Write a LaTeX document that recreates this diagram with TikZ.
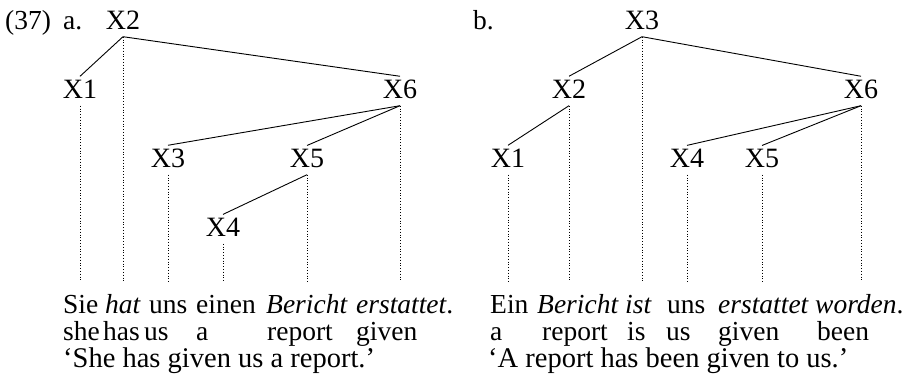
\documentclass[tikz,border=0pt]{standalone}
\usepackage{fontspec}
\setmainfont{Liberation Serif}
\usetikzlibrary{positioning}

\begin{document}
\begin{tikzpicture}[x=1pt, y=-1pt,
    cat/.style={inner sep=3pt, text depth=4.5pt, anchor=base, font=\fontsize{28}{33}\selectfont},
    word/.style={inner sep=0pt, text height=31pt, anchor=base west, font=\fontsize{27.5}{33}\selectfont},
    label/.style={inner sep=0pt, anchor=base west, font=\fontsize{27.5}{33}\selectfont},
    free/.style={label, font=\fontsize{28.5}{33}\selectfont},
    branch/.style={line width=0.9pt},
    link/.style={line width=0.8pt, dash pattern=on 0.8pt off 2pt}]
  \useasboundingbox (0,0) rectangle (907,381);

  % Example number and labels
  \node[label] (num) at (5,29) {(37)};
  \node[label] (la) at (63,29) {a.};
  \node[label] (lb) at (473,29) {b.};

  % Tree a
  \node[cat] (a2) at (123,29) {X2};
  \node[cat] (a1) at (80,98) {X1};
  \node[cat] (a6) at (400,98) {X6};
  \node[cat] (a3) at (168,167) {X3};
  \node[cat] (a5) at (307,167) {X5};
  \node[cat] (a4) at (223,236) {X4};

  \draw[branch] (a2.south) -- (a1.north);
  \draw[branch] (a2.south) -- (a6.north);
  \draw[branch] (a6.south) -- (a3.north);
  \draw[branch] (a6.south) -- (a5.north);
  \draw[branch] (a5.south) -- (a4.north);

  % Sentence a
  \node[word] (wa1) at (63,313) {Sie};
  \node[word] (wa2) at (105,313) {\itshape hat};
  \node[word] (wa3) at (149,313) {uns};
  \node[word] (wa4) at (196,313) {einen};
  \node[word] (wa5) at (266,313) {\itshape Bericht};
  \node[word] (wa6) at (356,313) {\itshape erstattet\upshape.};

  \node[label] (ga1) at (63,340) {she};
  \node[label] (ga2) at (103,340) {has};
  \node[label] (ga3) at (144,340) {us};
  \node[label] (ga4) at (196,340) {a};
  \node[label] (ga5) at (267,340) {report};
  \node[label] (ga6) at (356,340) {given};

  \node[free] (ta) at (63,367) {`She has given us a report.'};

  % Projection lines a
  \foreach \n/\w in {a1/wa1, a2/wa2, a3/wa3, a4/wa4, a5/wa5, a6/wa6}
    \draw[link] (\n.south) -- (\n.south |- \w.north);

  % Tree b
  \node[cat] (b3) at (642,29) {X3};
  \node[cat] (b2) at (569,98) {X2};
  \node[cat] (b6) at (861,98) {X6};
  \node[cat] (b1) at (508,167) {X1};
  \node[cat] (b4) at (687,167) {X4};
  \node[cat] (b5) at (762,167) {X5};

  \draw[branch] (b3.south) -- (b2.north);
  \draw[branch] (b3.south) -- (b6.north);
  \draw[branch] (b2.south) -- (b1.north);
  \draw[branch] (b6.south) -- (b4.north);
  \draw[branch] (b6.south) -- (b5.north);

  % Sentence b
  \node[word] (wb1) at (490,313) {Ein};
  \node[word] (wb2) at (537,313) {\itshape Bericht};
  \node[word] (wb3) at (625,313) {\itshape ist};
  \node[word] (wb4) at (667,313) {uns};
  \node[word] (wb5) at (718,313) {\itshape erstattet};
  \node[word] (wb6) at (815,313) {\itshape worden\upshape.};

  \node[label] (gb1) at (490,340) {a};
  \node[label] (gb2) at (542,340) {report};
  \node[label] (gb3) at (627,340) {is};
  \node[label] (gb4) at (666,340) {us};
  \node[label] (gb5) at (718,340) {given};
  \node[label] (gb6) at (817,340) {been};

  \node[free] (tb) at (488,367) {`A report has been given to us.'};

  % Projection lines b
  \foreach \n/\w in {b1/wb1, b2/wb2, b3/wb3, b4/wb4, b5/wb5, b6/wb6}
    \draw[link] (\n.south) -- (\n.south |- \w.north);
\end{tikzpicture}
\end{document}
